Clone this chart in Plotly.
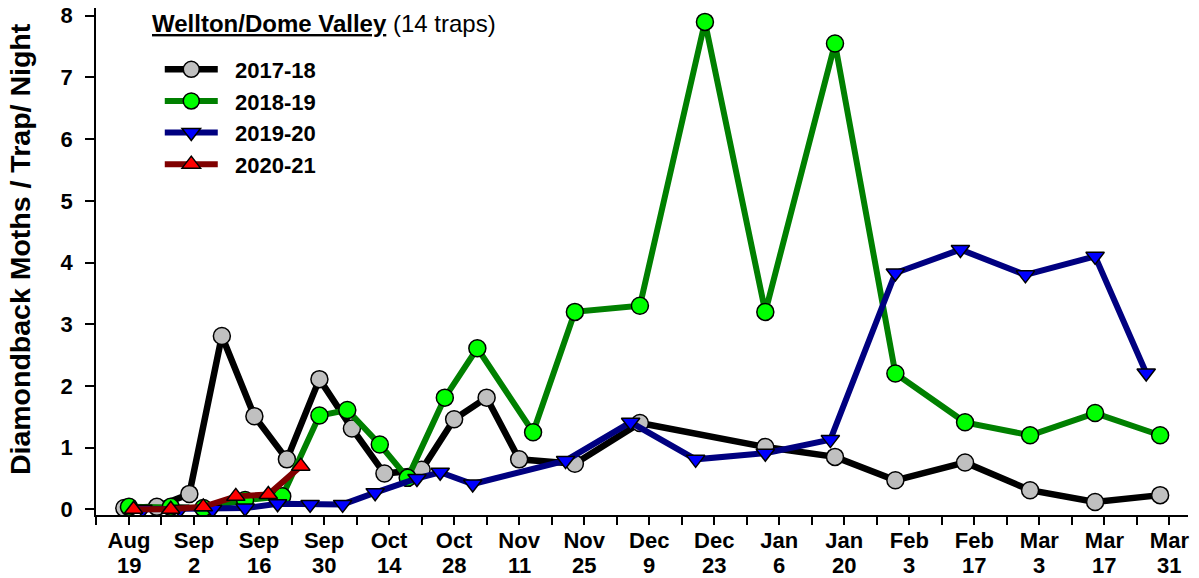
import plotly.graph_objects as go

# days counted from Aug 19
days_1718 = [-1, 6, 13, 20, 27, 34, 41, 48, 55, 63, 70, 77, 84, 96, 110, 137, 152, 165, 180, 194, 208, 222]
moths_1718 = [0.02, 0.04, 0.25, 2.81, 1.51, 0.81, 2.11, 1.31, 0.58, 0.64, 1.46, 1.81, 0.81, 0.74, 1.40, 1.01,
              0.85, 0.47, 0.76, 0.31, 0.12, 0.23]

days_1819 = [0, 9, 16, 25, 33, 41, 47, 54, 60, 68, 75, 87, 96, 110, 124, 137, 152, 165, 180, 194, 208, 222]
moths_1819 = [0.04, 0.04, 0.02, 0.15, 0.21, 1.52, 1.61, 1.05, 0.51, 1.81, 2.61, 1.25, 3.20, 3.30, 7.90, 3.20,
              7.55, 2.20, 1.41, 1.20, 1.56, 1.20]

days_1920 = [3, 11, 18, 25, 32, 39, 46, 53, 62, 67, 74, 94, 108, 122, 137, 151, 165, 179, 193, 208, 219]
moths_1920 = [0.0, 0.0, 0.0, 0.02, 0.09, 0.08, 0.08, 0.27, 0.50, 0.60, 0.41, 0.79, 1.41, 0.81, 0.91, 1.13,
              3.83, 4.21, 3.80, 4.10, 2.21]

days_2021 = [1, 9, 16, 23, 30, 37]
moths_2021 = [0.0, 0.0, 0.04, 0.21, 0.24, 0.70]

tick_days = list(range(-7, 225, 7))
label_days = list(range(0, 225, 14))
label_months = ["Aug", "Sep", "Sep", "Sep", "Oct", "Oct", "Nov", "Nov", "Dec", "Dec", "Jan", "Jan",
                "Feb", "Feb", "Mar", "Mar", "Mar"]
label_dates = ["19", "2", "16", "30", "14", "28", "11", "25", "9", "23", "6", "20", "3", "17", "3", "17", "31"]

tick_text = []
for d in tick_days:
    tick_text.append(label_months[label_days.index(d)] if d in label_days else "")

FONT = "Liberation Sans, Arial, sans-serif"
NB = "\u00a0\u00a0"

fig = go.Figure()

series = [
    ("2017-18", days_1718, moths_1718, "black", "#c0c0c0", "circle", 6.5, 17),
    ("2018-19", days_1819, moths_1819, "#008000", "#00ff00", "circle", 6, 17),
    ("2019-20", days_1920, moths_1920, "#000080", "#0000ff", "triangle-down", 6, 16),
    ("2020-21", days_2021, moths_2021, "#800000", "#ff0000", "triangle-up", 6, 16),
]
for name, x, y, lc, mc, sym, lw, ms in series:
    fig.add_trace(go.Scatter(
        x=x, y=y, name=NB + name,
        mode="lines+markers",
        line=dict(color=lc, width=lw),
        marker=dict(symbol=sym, size=ms, color=mc, line=dict(color="black", width=1.5)),
    ))

# second line of the date labels
for d, t in zip(label_days, label_dates):
    fig.add_annotation(
        x=d, y=0, xref="x", yref="paper", xanchor="center", yanchor="top",
        yshift=-36, showarrow=False, text="<b>" + t + "</b>",
        font=dict(family=FONT, size=22, color="black"),
    )

fig.add_annotation(
    x=0.0495, y=0.970, xref="paper", yref="paper",
    xanchor="left", yanchor="middle", showarrow=False,
    text="<b><u>Wellton/Dome Valley</u></b> (14 traps)",
    font=dict(family=FONT, size=24, color="black"),
)

fig.add_annotation(
    x=-0.0695, y=0.5247, xref="paper", yref="paper",
    xanchor="center", yanchor="middle", showarrow=False, textangle=-90,
    text="<b>Diamondback Moths / Trap/ Night</b>",
    font=dict(family=FONT, size=28.5, color="black"),
)

# the page body adds an 8px offset, so the figure is sized 8px smaller
fig.update_layout(
    width=1191, height=570,
    margin=dict(l=88, r=11, t=0, b=63),
    paper_bgcolor="white", plot_bgcolor="white",
    font=dict(family=FONT, color="black"),
    showlegend=True,
    legend=dict(
        x=0.0584, y=0.92, xanchor="left", yanchor="top",
        font=dict(family=FONT, size=22, color="black", weight="bold"),
        itemwidth=53,
        bgcolor="rgba(0,0,0,0)",
    ),
    xaxis=dict(
        range=[-7.1, 228], tickmode="array", tickvals=tick_days, ticktext=tick_text,
        showgrid=False, zeroline=False, showline=True, linecolor="black", linewidth=1.5,
        ticks="outside", ticklen=8, tickwidth=1.5, tickcolor="black", automargin=False,
        ticklabelstandoff=-3,
        tickfont=dict(family=FONT, size=22, weight="bold"),
    ),
    yaxis=dict(
        range=[-0.092, 8.125], tickvals=list(range(0, 9)),
        showgrid=False, zeroline=False, showline=True, linecolor="black", linewidth=1.5,
        ticks="outside", ticklen=9, tickwidth=1.5, tickcolor="black", automargin=False,
        ticklabelstandoff=8, ticklabeloverflow="allow",
        tickfont=dict(family=FONT, size=22, weight="bold"),
    ),
)

fig.write_html("out.html")
